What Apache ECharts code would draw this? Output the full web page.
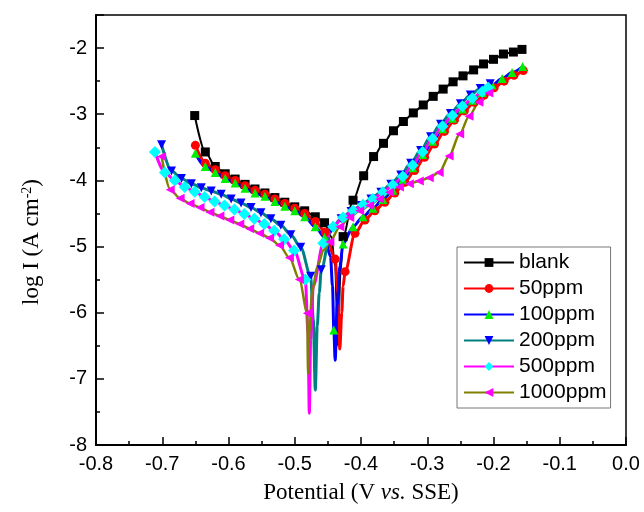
<!DOCTYPE html>
<html>
<head>
<meta charset="utf-8">
<script src="https://cdn.jsdelivr.net/npm/echarts@6/dist/echarts.min.js"></script>
<style>
  html, body { margin: 0; padding: 0; background: #fff; }
  #chart { width: 644px; height: 512px; }
</style>
</head>
<body>
<div id="chart"></div>
<script>
// Tafel curves. *Pts = points with a marker, *Dip = line-only points near Ecorr
var names = ['blank', '50ppm', '100ppm', '200ppm', '500ppm', '1000ppm'];

var blankPts = [[-0.651,-3.02],[-0.635,-3.57],[-0.620,-3.79],[-0.605,-3.90],[-0.590,-3.98],[-0.575,-4.06],[-0.560,-4.13],[-0.545,-4.19],[-0.530,-4.26],[-0.515,-4.33],[-0.500,-4.40],[-0.485,-4.46],[-0.469,-4.55],[-0.455,-4.64],[-0.427,-4.85],[-0.412,-4.30],[-0.396,-3.93],[-0.381,-3.64],[-0.366,-3.44],[-0.351,-3.25],[-0.336,-3.11],[-0.321,-2.98],[-0.306,-2.86],[-0.291,-2.73],[-0.276,-2.62],[-0.261,-2.51],[-0.246,-2.42],[-0.230,-2.33],[-0.215,-2.24],[-0.200,-2.17],[-0.185,-2.09],[-0.170,-2.06],[-0.157,-2.02]];
var blankDip = [[-0.445,-4.85],[-0.439,-5.3],[-0.435,-6.5],[-0.431,-5.4]];

var p50Pts = [[-0.650,-3.47],[-0.635,-3.74],[-0.620,-3.84],[-0.605,-3.93],[-0.590,-4.00],[-0.575,-4.08],[-0.560,-4.15],[-0.545,-4.21],[-0.530,-4.28],[-0.515,-4.35],[-0.500,-4.42],[-0.485,-4.50],[-0.469,-4.62],[-0.454,-4.78],[-0.439,-5.19],[-0.424,-5.38],[-0.409,-4.80],[-0.394,-4.60],[-0.379,-4.46],[-0.364,-4.33],[-0.349,-4.19],[-0.334,-4.03],[-0.319,-3.85],[-0.304,-3.65],[-0.289,-3.45],[-0.274,-3.26],[-0.259,-3.09],[-0.244,-2.95],[-0.229,-2.82],[-0.214,-2.71],[-0.199,-2.60],[-0.184,-2.50],[-0.169,-2.41],[-0.155,-2.34]];
var p50Dip = [[-0.435,-5.7],[-0.432,-6.55],[-0.429,-6.0],[-0.427,-5.6]];

var p100Pts = [[-0.650,-3.59],[-0.635,-3.79],[-0.620,-3.88],[-0.605,-3.97],[-0.590,-4.04],[-0.575,-4.12],[-0.560,-4.19],[-0.545,-4.24],[-0.530,-4.32],[-0.515,-4.39],[-0.500,-4.46],[-0.485,-4.55],[-0.469,-4.70],[-0.455,-4.86],[-0.441,-6.26],[-0.427,-4.96],[-0.412,-4.70],[-0.397,-4.55],[-0.382,-4.42],[-0.367,-4.29],[-0.352,-4.15],[-0.337,-3.99],[-0.322,-3.81],[-0.307,-3.61],[-0.292,-3.41],[-0.277,-3.22],[-0.262,-3.06],[-0.247,-2.92],[-0.232,-2.79],[-0.217,-2.67],[-0.202,-2.56],[-0.187,-2.46],[-0.172,-2.37],[-0.156,-2.28]];
var p100Dip = [[-0.446,-5.15],[-0.443,-5.6],[-0.439,-6.72],[-0.436,-5.9],[-0.432,-5.3]];

var p200Pts = [[-0.701,-3.46],[-0.686,-3.86],[-0.671,-3.97],[-0.656,-4.05],[-0.641,-4.11],[-0.626,-4.16],[-0.611,-4.21],[-0.596,-4.28],[-0.581,-4.34],[-0.566,-4.41],[-0.551,-4.49],[-0.536,-4.58],[-0.521,-4.68],[-0.506,-4.82],[-0.491,-5.01],[-0.476,-5.45],[-0.460,-5.35],[-0.445,-4.74],[-0.430,-4.58],[-0.415,-4.47],[-0.400,-4.38],[-0.385,-4.28],[-0.370,-4.18],[-0.355,-4.06],[-0.340,-3.92],[-0.325,-3.74],[-0.310,-3.55],[-0.295,-3.34],[-0.280,-3.15],[-0.265,-2.99],[-0.250,-2.84],[-0.235,-2.71],[-0.220,-2.61],[-0.205,-2.54]];
var p200Dip = [[-0.472,-6.1],[-0.469,-7.17],[-0.466,-6.2],[-0.463,-5.7]];

var p500Pts = [[-0.711,-3.57],[-0.696,-3.88],[-0.681,-4.00],[-0.666,-4.10],[-0.651,-4.17],[-0.636,-4.25],[-0.621,-4.32],[-0.606,-4.38],[-0.591,-4.44],[-0.576,-4.51],[-0.561,-4.58],[-0.546,-4.66],[-0.531,-4.76],[-0.516,-4.89],[-0.501,-5.06],[-0.484,-5.50],[-0.457,-4.95],[-0.442,-4.70],[-0.427,-4.56],[-0.412,-4.46],[-0.397,-4.37],[-0.382,-4.28],[-0.367,-4.18],[-0.352,-4.07],[-0.337,-3.94],[-0.322,-3.77],[-0.307,-3.57],[-0.292,-3.37],[-0.277,-3.18],[-0.262,-3.02],[-0.247,-2.88],[-0.232,-2.76],[-0.217,-2.66],[-0.208,-2.60]];
var p500Dip = [[-0.480,-6.3],[-0.478,-7.52],[-0.476,-6.4],[-0.472,-5.6]];

var p1000Pts = [[-0.701,-3.64],[-0.688,-4.14],[-0.673,-4.27],[-0.658,-4.35],[-0.643,-4.41],[-0.628,-4.48],[-0.613,-4.54],[-0.598,-4.60],[-0.583,-4.66],[-0.568,-4.73],[-0.553,-4.80],[-0.538,-4.87],[-0.523,-4.98],[-0.508,-5.17],[-0.493,-5.50],[-0.481,-6.01],[-0.447,-4.93],[-0.432,-4.70],[-0.417,-4.56],[-0.402,-4.46],[-0.387,-4.38],[-0.372,-4.28],[-0.357,-4.18],[-0.342,-4.10],[-0.327,-4.05],[-0.312,-4.01],[-0.297,-3.96],[-0.282,-3.88],[-0.267,-3.63],[-0.251,-3.30],[-0.237,-3.03],[-0.222,-2.82],[-0.207,-2.68]];
var p1000Dip = [[-0.480,-6.92],[-0.478,-6.3],[-0.474,-5.7],[-0.466,-5.3],[-0.456,-5.05]];

var yTicks = [-8, -7, -6, -5, -4, -3, -2];

// merge marker points and dip points in scan order
function buildData(pts, dip) {
    var all = [];
    pts.forEach(function(p) { all.push({ value: p }); });
    dip.forEach(function(p) { all.push({ value: p, symbol: 'none' }); });
    all.sort(function(a, b) { return a.value[0] - b.value[0]; });
    return all;
}

var styles = [
    { line: '#000000', mark: '#000000', symbol: 'rect', rot: 0, w: 2 },
    { line: '#ff0000', mark: '#ff0000', symbol: 'circle', rot: 0, w: 3 },
    { line: '#0000ff', mark: '#00ee00', symbol: 'triangle', rot: 0, w: 3 },
    { line: '#008080', mark: '#0000ff', symbol: 'triangle', rot: 180, w: 3 },
    { line: '#ff00ff', mark: '#00ffff', symbol: 'diamond', rot: 0, w: 3 },
    { line: '#808000', mark: '#ff00ff', symbol: 'triangle', rot: 90, w: 2.5 }
];
var ptsList = [blankPts, p50Pts, p100Pts, p200Pts, p500Pts, p1000Pts];
var dipList = [blankDip, p50Dip, p100Dip, p200Dip, p500Dip, p1000Dip];

var series = names.map(function(n, i) {
    var s = styles[i];
    return {
        name: n,
        type: 'line',
        data: buildData(ptsList[i], dipList[i]),
        smooth: 0.3,
        smoothMonotone: 'x',
        symbol: s.symbol,
        symbolRotate: s.rot,
        symbolSize: s.symbol == 'diamond' ? 12 : 9,
        showAllSymbol: true,
        itemStyle: { color: s.mark },
        lineStyle: { color: s.line, width: s.w },
        emphasis: { disabled: true },
        animation: false
    };
});

var serif = 'Liberation Serif, Times New Roman';
var sans = 'Liberation Sans, Arial';

var myChart = echarts.init(document.getElementById('chart'));
myChart.setOption({
    animation: false,
    grid: { left: 96, right: 18, top: 15, bottom: 67, show: true, borderColor: '#000', borderWidth: 1.5 },
    legend: {
        data: names,
        orient: 'vertical',
        left: 457,
        top: 247,
        padding: [5, 4, 5, 6],
        itemWidth: 50,
        itemHeight: 11,
        itemGap: 5,
        borderColor: '#777',
        borderWidth: 1,
        textStyle: { fontFamily: sans, fontSize: 21, color: '#000' }
    },
    xAxis: {
        type: 'value',
        min: -0.8, max: 0, interval: 0.1,
        splitLine: { show: false },
        axisLine: { onZero: false, lineStyle: { color: '#000', width: 2 } },
        axisTick: { inside: true, length: 8, lineStyle: { color: '#000', width: 1.5 } },
        minorTick: { show: true, splitNumber: 2, length: 4, lineStyle: { color: '#000', width: 1.5 } },
        axisLabel: {
            margin: 9, color: '#000', fontSize: 20, fontFamily: sans,
            formatter: function(v) { return Math.abs(v) < 1e-9 ? '0.0' : v.toFixed(1); }
        },
        name: '{a|Potential (V }{i|vs.}{a| SSE)}',
        nameLocation: 'middle',
        nameGap: 36,
        nameTextStyle: {
            rich: {
                a: { fontFamily: serif, fontSize: 23, color: '#000' },
                i: { fontFamily: serif, fontSize: 23, fontStyle: 'italic', color: '#000' }
            }
        }
    },
    yAxis: {
        type: 'value',
        min: -8, max: -1.5, interval: 1,
        splitLine: { show: false },
        axisLine: { onZero: false, lineStyle: { color: '#000', width: 2 } },
        axisTick: { inside: true, length: 8, lineStyle: { color: '#000', width: 1.5 } },
        minorTick: { show: true, splitNumber: 2, length: 4, lineStyle: { color: '#000', width: 1.5 } },
        axisLabel: {
            margin: 9, color: '#000', fontSize: 20, fontFamily: sans,
            formatter: function(v) { return yTicks.indexOf(v) >= 0 ? String(v) : ''; }
        },
        name: '{a|log I (A cm}{s|-2}{a|)}',
        nameLocation: 'middle',
        nameGap: 52,
        nameTextStyle: {
            padding: [0, 24, 0, 0],
            rich: {
                a: { fontFamily: serif, fontSize: 23, color: '#000' },
                s: { fontFamily: serif, fontSize: 14, color: '#000', verticalAlign: 'top', padding: [0, 0, 10, 0] }
            }
        }
    },
    series: series
});
</script>
</body>
</html>
